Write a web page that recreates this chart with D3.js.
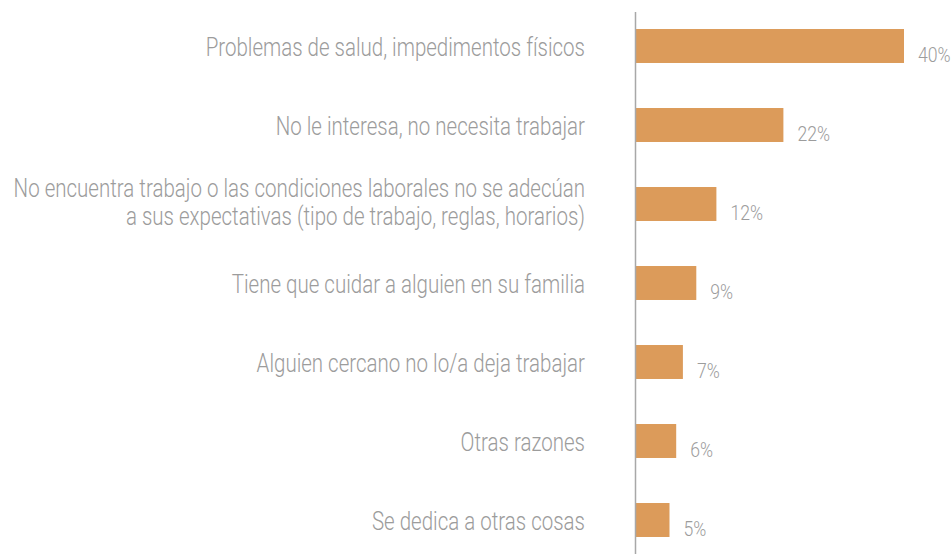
<!DOCTYPE html>
<html>
<head>
<meta charset="utf-8">
<script src="https://cdn.jsdelivr.net/npm/d3@7"></script>
<style>
  html, body { margin: 0; padding: 0; background: #fff; }
  svg { display: block; }
  text { font-family: Roboto, "DejaVu Sans Condensed", sans-serif; font-weight: 300; fill: #9c9c9c; }
</style>
</head>
<body>
<svg id="chart" width="951" height="554"></svg>
<script>
const categories = [
  ["Problemas de salud, impedimentos físicos"],
  ["No le interesa, no necesita trabajar"],
  ["No encuentra trabajo o las condiciones laborales no se adecúan", "a sus expectativas (tipo de trabajo, reglas, horarios)"],
  ["Tiene que cuidar a alguien en su familia"],
  ["Alguien cercano no lo/a deja trabajar"],
  ["Otras razones"],
  ["Se dedica a otras cosas"]
];
const values = [40, 22, 12, 9, 7, 6, 5];
const valueLabels = ["40%", "22%", "12%", "9%", "7%", "6%", "5%"];

const svg = d3.select("#chart");
const keys = categories.map((c, i) => i);

const x = d3.scaleLinear().domain([0, 40]).range([636, 904]);
const y = d3.scaleBand().domain(keys).range([6.5, 559.5]).paddingInner(0.57).paddingOuter(0.285);

// bars
svg.append("g").selectAll("rect").data(values).join("rect")
  .attr("x", x(0))
  .attr("y", (d, i) => y(i))
  .attr("width", d => x(d) - x(0))
  .attr("height", y.bandwidth())
  .attr("fill", "#dc9b5a");

// axis line
svg.append("line")
  .attr("x1", x(0) - 0.5).attr("x2", x(0) - 0.5)
  .attr("y1", 12).attr("y2", 554)
  .attr("stroke", "#a8a8a8").attr("stroke-width", 1.5);

const sx = 0.82; // horizontal condensation to mimic a condensed face
const sxVal = 0.84;
const labelRight = 585;

// category labels
const fs = 25;
const lineH = 28;
const catG = svg.append("g").attr("transform", `translate(${labelRight},0) scale(${sx},1)`);
const cat = catG.selectAll("text").data(categories).join("text")
  .attr("text-anchor", "end")
  .attr("font-size", fs)
  .attr("y", (d, i) => y(i) + y.bandwidth() / 2 + 10.5 - (d.length - 1) * lineH / 2 - 3 * (d.length - 1));
cat.selectAll("tspan").data(d => d).join("tspan")
  .attr("x", 0)
  .attr("dy", (d, j) => j === 0 ? 0 : lineH)
  .text(d => d);

// value labels
svg.append("g").selectAll("text").data(values).join("text")
  .attr("transform", (d, i) => `translate(${x(d) + 14},${y(i) + y.bandwidth() - 1}) scale(${sxVal},1)`)
  .attr("font-size", 21)
  .text((d, i) => valueLabels[i]);
</script>
</body>
</html>
